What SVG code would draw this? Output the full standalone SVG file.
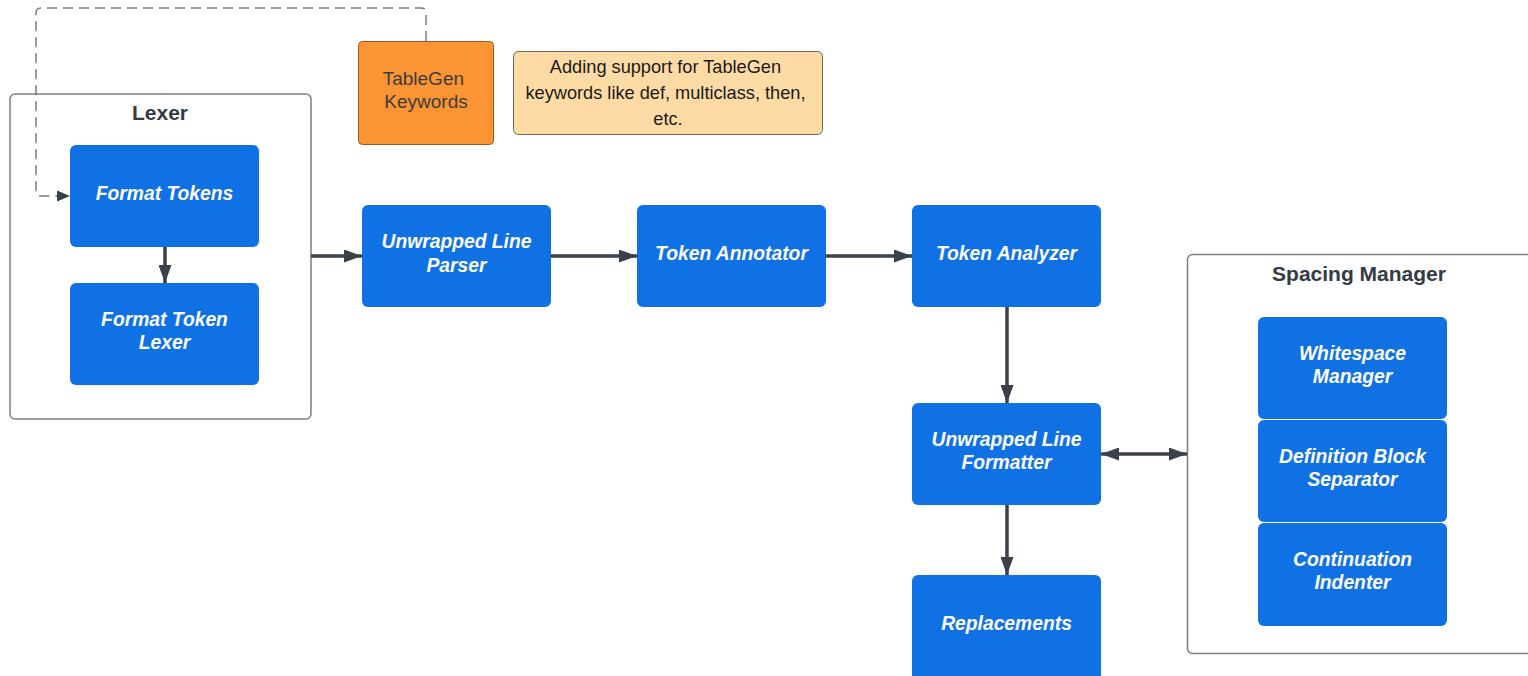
<svg xmlns="http://www.w3.org/2000/svg" width="1528" height="676" viewBox="0 0 1528 676">
  <defs>
    <marker id="arrow" viewBox="0 0 18 13" refX="18" refY="6.5" markerWidth="18" markerHeight="13" markerUnits="userSpaceOnUse" orient="auto-start-reverse">
      <path d="M0,0 L18,6.5 L0,13 z" fill="#3a414a"/>
    </marker>
  </defs>
  <style>
    .container { fill: #ffffff; stroke: #7d7f83; stroke-width: 1.5; }
    .title { font-family: "Liberation Sans", Arial, sans-serif; font-weight: bold; font-size: 21px; fill: #333a44; text-anchor: middle; }
    .proc { fill: #1071e5; }
    .proc-label { font-family: "Liberation Sans", Arial, sans-serif; font-weight: bold; font-style: italic; font-size: 19.3px; fill: #ffffff; text-anchor: middle; }
    .edge { fill: none; stroke: #3a414a; stroke-width: 3.5; }
    .dash { fill: none; stroke: #7a7c80; stroke-width: 1.5; stroke-dasharray: 10 6; }
    .note-label { font-family: "Liberation Sans", Arial, sans-serif; font-size: 18.2px; fill: #1a1a1a; text-anchor: middle; }
  </style>
  <rect width="1528" height="676" fill="#ffffff"/>

  <!-- Lexer container -->
  <g id="lexer">
    <rect class="container" x="10" y="94" width="301" height="325" rx="5"/>
    <text class="title" x="160" y="120">Lexer</text>
  </g>

  <!-- Spacing Manager container -->
  <g id="spacing-manager">
    <rect class="container" x="1187.5" y="254.5" width="350" height="399" rx="5"/>
    <text class="title" x="1359" y="281">Spacing Manager</text>
  </g>

  <!-- Connectors -->
  <g id="connectors">
    <path class="dash" d="M426,41 V13 Q426,8 421,8 H41 Q36,8 36,13 V191 Q36,196 41,196 H57"/>
    <path d="M57,190.5 L70,196 L57,201.5 z" fill="#3a414a"/>
    <line class="edge" x1="165" y1="247" x2="165" y2="283" marker-end="url(#arrow)"/>
    <line class="edge" x1="311" y1="256" x2="362" y2="256" marker-end="url(#arrow)"/>
    <line class="edge" x1="551" y1="256" x2="637" y2="256" marker-end="url(#arrow)"/>
    <line class="edge" x1="826" y1="256" x2="912" y2="256" marker-end="url(#arrow)"/>
    <line class="edge" x1="1007" y1="307" x2="1007" y2="403" marker-end="url(#arrow)"/>
    <line class="edge" x1="1007" y1="505" x2="1007" y2="575" marker-end="url(#arrow)"/>
    <line class="edge" x1="1101" y1="454" x2="1187" y2="454" marker-start="url(#arrow)" marker-end="url(#arrow)"/>
  </g>

  <!-- TableGen keywords -->
  <g id="tablegen-keywords">
    <rect x="358.5" y="41.5" width="135" height="103" rx="4" fill="#fb9433" stroke="#9a5a22" stroke-width="1"/>
    <text font-family="'Liberation Sans', Arial, sans-serif" font-size="19" fill="#3c3c3c" text-anchor="middle">
      <tspan x="426" y="85">TableGen</tspan>
      <tspan x="426" y="108">Keywords</tspan>
    </text>
  </g>

  <!-- Note -->
  <g id="note">
    <rect x="513.5" y="51.5" width="309" height="83" rx="5" fill="#fedba5" stroke="#6a6660" stroke-width="1"/>
    <text class="note-label">
      <tspan x="668" y="73">Adding support for TableGen</tspan>
      <tspan x="668" y="99">keywords like def, multiclass, then,</tspan>
      <tspan x="668" y="125">etc.</tspan>
    </text>
  </g>

  <g id="format-tokens">
    <rect class="proc" x="70" y="145" width="189" height="102" rx="6"/>
    <text class="proc-label" x="164.5" y="200">Format Tokens</text>
  </g>

  <g id="format-token-lexer">
    <rect class="proc" x="70" y="283" width="189" height="102" rx="6"/>
    <text class="proc-label"><tspan x="164.5" y="326">Format Token</tspan><tspan x="164.5" y="349">Lexer</tspan></text>
  </g>

  <g id="unwrapped-line-parser">
    <rect class="proc" x="362" y="205" width="189" height="102" rx="6"/>
    <text class="proc-label"><tspan x="456.5" y="248">Unwrapped Line</tspan><tspan x="456.5" y="272">Parser</tspan></text>
  </g>

  <g id="token-annotator">
    <rect class="proc" x="637" y="205" width="189" height="102" rx="6"/>
    <text class="proc-label" x="731.5" y="260">Token Annotator</text>
  </g>

  <g id="token-analyzer">
    <rect class="proc" x="912" y="205" width="189" height="102" rx="6"/>
    <text class="proc-label" x="1006.5" y="260">Token Analyzer</text>
  </g>

  <g id="unwrapped-line-formatter">
    <rect class="proc" x="912" y="403" width="189" height="102" rx="6"/>
    <text class="proc-label"><tspan x="1006.5" y="446">Unwrapped Line</tspan><tspan x="1006.5" y="469">Formatter</tspan></text>
  </g>

  <g id="replacements">
    <rect class="proc" x="912" y="575" width="189" height="106" rx="6"/>
    <text class="proc-label" x="1006.5" y="630">Replacements</text>
  </g>

  <g id="whitespace-manager">
    <rect class="proc" x="1258" y="317" width="189" height="102" rx="6"/>
    <text class="proc-label"><tspan x="1352.5" y="360">Whitespace</tspan><tspan x="1352.5" y="383">Manager</tspan></text>
  </g>

  <g id="definition-block-separator">
    <rect class="proc" x="1258" y="420" width="189" height="102" rx="6"/>
    <text class="proc-label"><tspan x="1352.5" y="463">Definition Block</tspan><tspan x="1352.5" y="486">Separator</tspan></text>
  </g>

  <g id="continuation-indenter">
    <rect class="proc" x="1258" y="523" width="189" height="103" rx="6"/>
    <text class="proc-label"><tspan x="1352.5" y="566">Continuation</tspan><tspan x="1352.5" y="589">Indenter</tspan></text>
  </g>
</svg>
